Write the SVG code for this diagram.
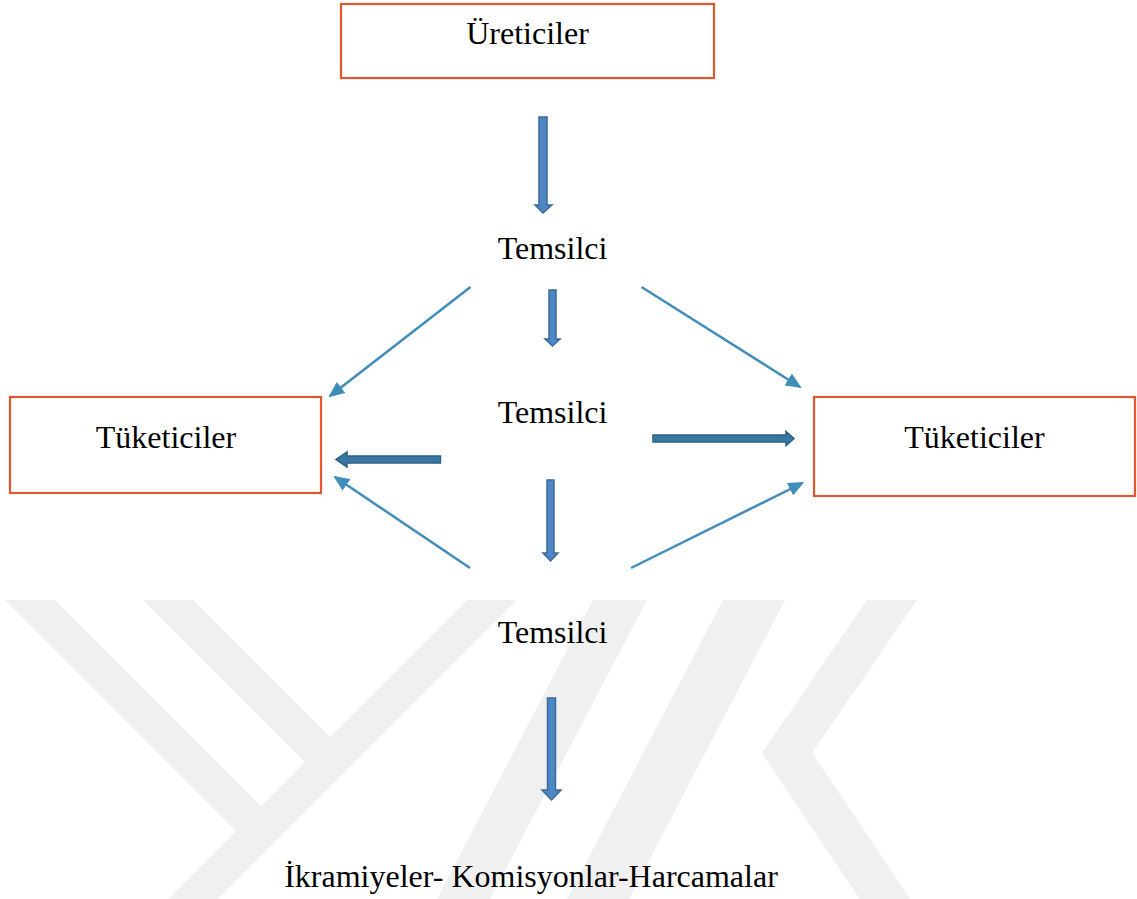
<svg xmlns="http://www.w3.org/2000/svg" width="1137" height="899" viewBox="0 0 1137 899">
  <defs>
    <style>
      .box { fill: #ffffff; stroke: #E4572E; stroke-width: 2.2; }
      .lbl { font-family: "Liberation Serif", "Times New Roman", serif; font-size: 32px; fill: #000000; text-anchor: middle; }
      .blockv { fill: #4F86C4; stroke: #3A6B9C; stroke-width: 1.5; stroke-linejoin: miter; }
      .blockh { fill: #3A77A2; stroke: #2C6186; stroke-width: 1.5; stroke-linejoin: miter; }
      .thin { fill: none; stroke: #3F8DBB; stroke-width: 2.5; marker-end: url(#tri); }
      .wm { fill: #F0F0F0; }
    </style>
    <marker id="tri" viewBox="0 0 16 14" refX="14" refY="7" markerWidth="16" markerHeight="14" markerUnits="userSpaceOnUse" orient="auto">
      <path d="M0,0 L16,7 L0,14 Z" fill="#3F8DBB"/>
    </marker>
    <clipPath id="wmclip">
      <rect x="0" y="600" width="1137" height="299"/>
    </clipPath>
  </defs>

  <rect x="0" y="0" width="1137" height="899" fill="#ffffff"/>

  <g id="watermark" clip-path="url(#wmclip)">
    <polygon class="wm" points="5,600 55,600 261,806 236,831"/>
    <polygon class="wm" points="143,600 193,600 330,737 305,762"/>
    <polygon class="wm" points="467,600 517,600 218,899 168,899"/>
    <polygon class="wm" points="593,600 647,600 490,899 437,899"/>
    <polygon class="wm" points="723,600 785,600 629,899 567,899"/>
    <polygon class="wm" points="867,600 917,600 812,753 910,899 860,899 762,753"/>
  </g>

  <g id="connectors">
    <path class="blockv" d="M539,117 H547 V205 H552 L543,213 L535,205 H539 Z"/>
    <path class="blockv" d="M549,290 H556 V339 H560 L552.5,346 L545,339 H549 Z"/>
    <path class="blockv" d="M547,480 H554 V553 H558 L550.5,561 L543,553 H547 Z"/>
    <path class="blockv" d="M547.5,698 H555.5 V790 H561 L551.5,800 L542,790 H547.5 Z"/>
    <path class="blockh" d="M440.5,456 V463 H347 V467 L336,459.5 L347,452 V456 Z"/>
    <path class="blockh" d="M653,435 V442 H786 V445.5 L794,438.5 L786,431.5 V435 Z"/>
    <line class="thin" x1="470.5" y1="287" x2="330" y2="396"/>
    <line class="thin" x1="641.5" y1="287" x2="800" y2="387"/>
    <line class="thin" x1="470" y1="568" x2="335" y2="477"/>
    <line class="thin" x1="631" y1="568" x2="802.5" y2="483"/>
  </g>

  <g id="node-ureticiler">
    <rect class="box" x="341" y="4" width="373" height="74"/>
    <text class="lbl" x="527.5" y="44">Üreticiler</text>
  </g>
  <g id="node-temsilci-1">
    <text class="lbl" x="552.5" y="259">Temsilci</text>
  </g>
  <g id="node-temsilci-2">
    <text class="lbl" x="552.5" y="423">Temsilci</text>
  </g>
  <g id="node-temsilci-3">
    <text class="lbl" x="552.5" y="643">Temsilci</text>
  </g>
  <g id="node-tuketiciler-left">
    <rect class="box" x="10" y="397" width="311" height="96"/>
    <text class="lbl" x="166" y="448">Tüketiciler</text>
  </g>
  <g id="node-tuketiciler-right">
    <rect class="box" x="814" y="397" width="321" height="99"/>
    <text class="lbl" x="974.5" y="448">Tüketiciler</text>
  </g>
  <g id="node-ikramiyeler">
    <text class="lbl" x="531" y="887">İkramiyeler- Komisyonlar-Harcamalar</text>
  </g>
</svg>
